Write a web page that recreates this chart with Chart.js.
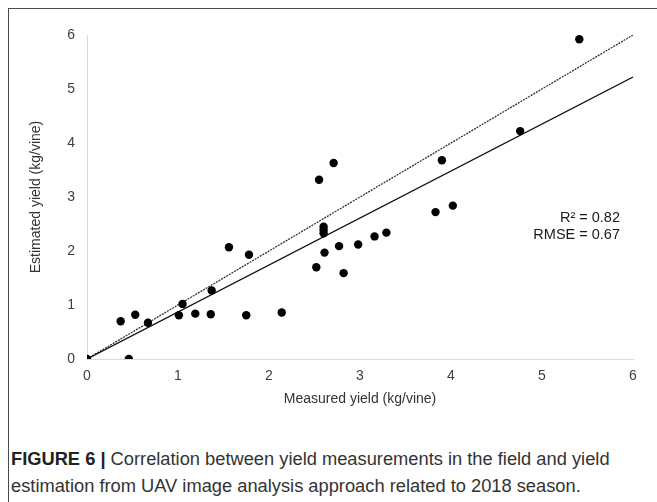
<!DOCTYPE html>
<html>
<head>
<meta charset="utf-8">
<script src="https://cdn.jsdelivr.net/npm/chart.js@4"></script>
<style>
  html, body { margin: 0; padding: 0; background: #fff; }
  body { width: 657px; height: 502px; position: relative; overflow: hidden; font-family: "Liberation Sans", Arial, sans-serif; }
  #frame { position: absolute; left: 8px; top: 8px; right: -5px; bottom: -5px; border-left: 1.5px solid #4a4a4a; border-top: 1.5px solid #4a4a4a; }
  #wrap { position: absolute; left: 0; top: 0; width: 657px; height: 430px; }
  #caption { position: absolute; left: 11px; top: 445px; width: 640px; font-size: 18.3px; line-height: 27px; color: #333; }
  #caption b { color: #222; }
</style>
</head>
<body>
<div id="frame"></div>
<div id="wrap"><canvas id="c" width="657" height="430"></canvas></div>
<div id="caption"><b>FIGURE 6 |</b> Correlation between yield measurements in the field and yield estimation from UAV image analysis approach related to 2018 season.</div>
<script>
const measured  = [0, 0.46, 0.37, 0.53, 0.67, 1.01, 1.05, 1.19, 1.36, 1.37, 1.56, 1.78, 1.75, 2.14, 2.52, 2.55, 2.60, 2.60, 2.60, 2.61, 2.71, 2.77, 2.82, 2.98, 3.16, 3.29, 3.83, 3.90, 4.02, 4.76, 5.41];
const estimated = [0, 0, 0.70, 0.82, 0.67, 0.81, 1.02, 0.84, 0.83, 1.27, 2.07, 1.93, 0.81, 0.86, 1.70, 3.32, 2.45, 2.39, 2.33, 1.97, 3.63, 2.09, 1.59, 2.12, 2.27, 2.34, 2.72, 3.68, 2.84, 4.22, 5.92];
const fitX = [0, 6];
const fitY = [0, 5.22];
const oneToOneX = [0, 6];
const oneToOneY = [0, 6];
const xTicks = [0, 1, 2, 3, 4, 5, 6];
const yTicks = [0, 1, 2, 3, 4, 5, 6];
const statsText = ["R\u00B2 = 0.82", "RMSE = 0.67"];

const toPts = (xs, ys) => xs.map((x, i) => ({x: x, y: ys[i]}));

const statsPlugin = {
  id: 'stats',
  afterDatasetsDraw(chart) {
    const ctx = chart.ctx;
    const a = chart.chartArea;
    ctx.save();
    ctx.font = '14.5px "Liberation Sans", Arial, sans-serif';
    ctx.fillStyle = '#1a1a1a';
    ctx.textAlign = 'right';
    ctx.textBaseline = 'middle';
    ctx.fillText(statsText[0], a.right - 13, a.top + 183);
    ctx.fillText(statsText[1], a.right - 13, a.top + 200);
    ctx.restore();
  }
};

new Chart(document.getElementById('c'), {
  type: 'scatter',
  data: {
    datasets: [
      { data: toPts(oneToOneX, oneToOneY), showLine: true, borderColor: '#333', borderWidth: 1.3, borderDash: [2, 1], pointRadius: 0, fill: false, order: 3 },
      { data: toPts(fitX, fitY), showLine: true, borderColor: '#111', borderWidth: 1.3, pointRadius: 0, fill: false, order: 2 },
      { data: toPts(measured, estimated), backgroundColor: '#000', borderColor: '#000', pointRadius: 4.2, pointBorderWidth: 0, order: 1 }
    ]
  },
  options: {
    responsive: false,
    animation: false,
    layout: { padding: { left: 0, right: 24, top: 35, bottom: 0 } },
    plugins: { legend: { display: false }, tooltip: { enabled: false } },
    scales: {
      x: {
        type: 'linear', min: 0, max: 6,
        afterBuildTicks: s => { s.ticks = xTicks.map(v => ({value: v})); },
        afterFit: s => { s.height = 71; },
        grid: { display: false, drawTicks: false },
        border: { display: true, color: '#d9d9d9', width: 1 },
        ticks: { padding: 9, color: '#404040', font: { family: '"Liberation Sans", Arial, sans-serif', size: 14 } },
        title: { display: true, text: 'Measured yield (kg/vine)', color: '#333', padding: { top: 0, bottom: 22 }, font: { family: '"Liberation Sans", Arial, sans-serif', size: 14 } }
      },
      y: {
        type: 'linear', min: 0, max: 6,
        afterBuildTicks: s => { s.ticks = yTicks.map(v => ({value: v})); },
        afterFit: s => { s.width = 87; },
        grid: { display: false, drawTicks: false },
        border: { display: true, color: '#d9d9d9', width: 1 },
        ticks: { padding: 12, color: '#404040', font: { family: '"Liberation Sans", Arial, sans-serif', size: 14 } },
        title: { display: true, text: 'Estimated yield (kg/vine)', color: '#333', padding: { top: 28, bottom: 0 }, font: { family: '"Liberation Sans", Arial, sans-serif', size: 14 } }
      }
    }
  },
  plugins: [statsPlugin]
});
</script>
</body>
</html>
